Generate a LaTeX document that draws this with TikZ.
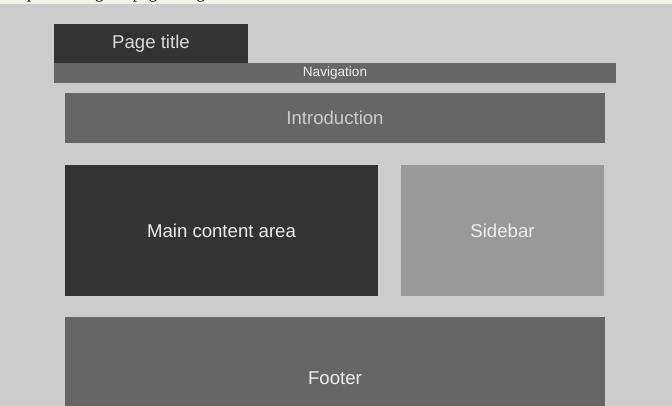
\documentclass[tikz,border=0pt]{standalone}
\usepackage{fontspec}
\setmainfont{Liberation Serif}
\setsansfont{Liberation Sans}
\usetikzlibrary{positioning}

\definecolor{pagebg}{HTML}{CCCCCC}
\definecolor{capbg}{HTML}{F3F3E8}
\definecolor{darkbox}{HTML}{333333}
\definecolor{midbox}{HTML}{666666}
\definecolor{lightbox}{HTML}{999999}

\begin{document}
\begin{tikzpicture}[x=1pt,y=-1pt,
		region/.style={anchor=north west,inner sep=0pt,outer sep=0pt,
			font=\sffamily\fontsize{18.6}{18.6}\selectfont,text=white!93!black}]
		\useasboundingbox (0,0) rectangle (672,406);
		\fill[pagebg] (0,0) rectangle (672,406);
		\fill[capbg] (0,0) rectangle (672,4);
		\begin{scope}
			\clip (0,0) rectangle (672,4);
			\node[anchor=base west,inner sep=0pt,font=\fontsize{17}{17}\selectfont] (caption) at (8,-1) {Implementing the page design};
		\end{scope}

		\begin{scope}[every node/.style={region}]
			\node[fill=midbox,minimum width=562pt,minimum height=20pt,font=\sffamily\fontsize{13.6}{13.6}\selectfont] (nav) at (54,63) {Navigation};
			\node[fill=darkbox,minimum width=194pt,minimum height=39pt,text=white!85!black] (title) at (54,24) {Page title};
			\node[fill=midbox,minimum width=540pt,minimum height=50pt,text=pagebg] (intro) at (65,93) {Introduction};
			\node[fill=darkbox,minimum width=313pt,minimum height=131pt] (main) at (65,165) {Main content area};
			\node[fill=lightbox,minimum width=203pt,minimum height=131pt] (sidebar) at (401,165) {Sidebar};
			\node[fill=midbox,minimum width=540pt,minimum height=122pt] (footer) at (65,317) {Footer};
		\end{scope}
	\end{tikzpicture}
\end{document}
